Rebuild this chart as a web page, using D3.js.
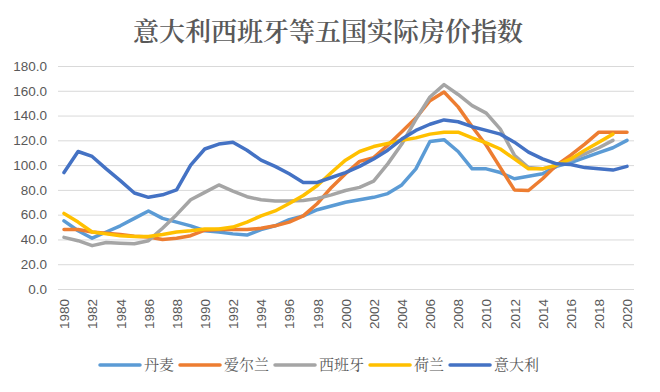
<!DOCTYPE html>
<html>
<head>
<meta charset="utf-8">
<script src="https://cdn.jsdelivr.net/npm/d3@7"></script>
<style>
  html, body { margin: 0; padding: 0; background: #fff; }
  svg { display: block; }
</style>
</head>
<body>
<svg id="chart" width="660" height="392"></svg>
<script>
const years = d3.range(1980, 2021);
const yTicks = [0, 20, 40, 60, 80, 100, 120, 140, 160, 180];
const xTickYears = d3.range(1980, 2021, 2);

const seriesNames = ["丹麦", "爱尔兰", "西班牙", "荷兰", "意大利"];
const seriesColors = ["#5B9BD5", "#ED7D31", "#A5A5A5", "#FFC000", "#4472C4"];

const denmark = [55, 47, 41, 46, 51, 57, 63, 57, 54, 51, 47, 46, 44.5, 43.5, 48, 51, 56, 59, 64, 67,
  70, 72, 74, 77, 84, 97, 119, 120.5, 111, 97, 97, 94, 89, 91, 93, 99, 102, 106, 110, 114, 120];
const ireland = [48, 48, 46, 45, 44, 42.5, 42, 40, 41, 43, 47.5, 48, 48, 48, 49, 51, 54, 59, 69, 82,
  93, 103, 106, 116, 127, 138, 152, 159, 147, 131, 116, 98, 80, 79.5, 89, 100, 108, 117, 126.6, 126.6, 126.6];
const spain = [41.7, 39, 35, 37.5, 37, 36.5, 39, 49, 60, 72, 78, 84, 79, 74.5, 72, 71, 71, 71.5, 73, 76,
  79.5, 82, 87, 101, 117, 137, 155, 165, 157, 148, 142, 129, 108, 98, 97, 100, 104, 109, 114, 120, null];
const netherlands = [61, 54, 46, 44.5, 43, 42.3, 42.3, 44, 46, 47, 48.5, 48.5, 50, 54, 59, 63, 69, 75.5, 83.5, 94,
  104, 111, 115, 117.5, 120, 122, 125, 126.6, 126.6, 122, 118, 113, 105, 97, 97, 100, 105, 112, 118.5, 125, null];
const italy = [94, 111, 107, 97, 87.5, 77.5, 74, 76, 80, 100, 113, 117, 118.5, 112, 104, 99, 93, 86, 86, 90,
  94, 99, 105, 112, 121, 128, 133, 136.5, 135, 131, 128, 125, 118.5, 110.5, 105, 101, 100.5, 98, 97, 96, 99];

const seriesValues = [denmark, ireland, spain, netherlands, italy];

const svg = d3.select("#chart");
const textColor = "#595959";
const cjk = "'Noto Serif CJK SC', 'Noto Sans CJK SC', serif";

// Title
svg.append("text")
  .attr("x", 328).attr("y", 41)
  .attr("text-anchor", "middle")
  .attr("font-family", cjk)
  .attr("font-size", 26)
  .attr("font-weight", 600)
  .attr("fill", textColor)
  .text("意大利西班牙等五国实际房价指数");

const x = d3.scaleLinear().domain([1980, 2020]).range([64, 627]);
const y = d3.scaleLinear().domain([0, 180]).range([289, 66]);

// Gridlines + y labels
const yAxis = d3.axisLeft(y).tickValues(yTicks).tickSize(-(634 - 58)).tickPadding(11)
  .tickFormat(d3.format(".1f"));
const gy = svg.append("g").attr("transform", "translate(58,0)").call(yAxis);
gy.select(".domain").remove();
gy.selectAll(".tick line").attr("stroke", "#d9d9d9").attr("stroke-width", 1);
gy.selectAll(".tick text")
  .attr("fill", textColor)
  .attr("font-family", "'Liberation Sans', Arial, sans-serif")
  .attr("font-size", 13.5);

// X labels
const xAxis = d3.axisBottom(x).tickValues(xTickYears).tickSize(0).tickFormat(d3.format("d"));
const gx = svg.append("g").attr("transform", "translate(0,289)").call(xAxis);
gx.select(".domain").remove();
gx.selectAll(".tick text")
  .attr("fill", textColor)
  .attr("font-family", "'Liberation Sans', Arial, sans-serif")
  .attr("font-size", 13.5)
  .attr("text-anchor", "end")
  .attr("transform", "translate(0,10) rotate(-90)")
  .attr("x", 0).attr("y", 0).attr("dy", "0.35em");

// Lines
const line = d3.line()
  .defined(d => d.v != null)
  .x(d => x(d.year))
  .y(d => y(d.v));

seriesValues.forEach((vals, i) => {
  svg.append("path")
    .datum(years.map((yr, j) => ({ year: yr, v: vals[j] })))
    .attr("fill", "none")
    .attr("stroke", seriesColors[i])
    .attr("stroke-width", 3.5)
    .attr("stroke-linejoin", "round")
    .attr("stroke-linecap", "round")
    .attr("d", line);
});

// Legend
const legend = svg.append("g");
let lx = 100;
const ly = 365;
seriesNames.forEach((name, i) => {
  legend.append("line")
    .attr("x1", lx).attr("x2", lx + 40)
    .attr("y1", ly).attr("y2", ly)
    .attr("stroke", seriesColors[i])
    .attr("stroke-width", 3.5)
    .attr("stroke-linecap", "round");
  const t = legend.append("text")
    .attr("x", lx + 44).attr("y", ly)
    .attr("dy", "0.35em")
    .attr("font-family", cjk)
    .attr("font-size", 15)
    .attr("fill", textColor)
    .text(name);
  const w = t.node().getComputedTextLength();
  lx = lx + 44 + w + 6;
});
</script>
</body>
</html>
